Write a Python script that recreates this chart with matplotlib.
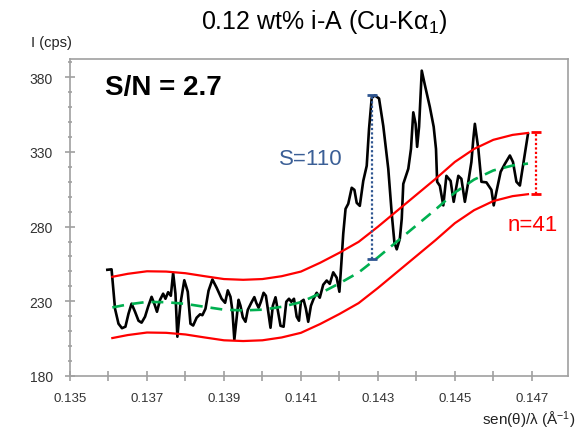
import matplotlib
matplotlib.use("Agg")
import matplotlib.pyplot as plt
from matplotlib.ticker import MultipleLocator, FixedLocator, FixedFormatter

plt.rcParams['font.family'] = ['Liberation Sans', 'DejaVu Sans']
plt.rcParams['mathtext.fontset'] = 'custom'
plt.rcParams['mathtext.rm'] = 'Liberation Sans'
plt.rcParams['mathtext.it'] = 'Liberation Sans:italic'
plt.rcParams['mathtext.bf'] = 'Liberation Sans:bold'

# ---- data ----
signal_x = [0.13597, 0.13608, 0.13617, 0.13626, 0.13635, 0.13644, 0.13652, 0.13660, 0.13669, 0.13678,
            0.13686, 0.13695, 0.13703, 0.13712, 0.13720, 0.13726, 0.13734, 0.13742, 0.13748, 0.13755,
            0.13762, 0.13768, 0.13774, 0.13779, 0.13787, 0.13797, 0.13806, 0.13813, 0.13820, 0.13829,
            0.13838, 0.13844, 0.13852, 0.13860, 0.13870, 0.13881, 0.13894, 0.13903, 0.13910, 0.13917,
            0.13922, 0.13927, 0.13934, 0.13938, 0.13943, 0.13949, 0.13956, 0.13962, 0.13971, 0.13979,
            0.13984, 0.13990, 0.13996, 0.14003, 0.14009, 0.14014, 0.14021, 0.14027, 0.14034, 0.14040,
            0.14047, 0.14055, 0.14062, 0.14069, 0.14075, 0.14082, 0.14089, 0.14095, 0.14100, 0.14107,
            0.14113, 0.14119, 0.14126, 0.14133, 0.14141, 0.14149, 0.14158, 0.14167, 0.14175, 0.14184,
            0.14193, 0.14200, 0.14205, 0.14210, 0.14216, 0.14223, 0.14232, 0.14239, 0.14245, 0.14253,
            0.14262, 0.14271, 0.14277, 0.14284, 0.14292, 0.14303, 0.14314, 0.14327, 0.14336, 0.14343,
            0.14349, 0.14357, 0.14362, 0.14366, 0.14379, 0.14386, 0.14392, 0.14398, 0.14402, 0.14407,
            0.14414, 0.14422, 0.14435, 0.14445, 0.14451, 0.14454, 0.14461, 0.14470, 0.14478, 0.14489,
            0.14497, 0.14509, 0.14517, 0.14526, 0.14535, 0.14543, 0.14548, 0.14552, 0.14561, 0.14569,
            0.14582, 0.14595, 0.14601, 0.14608, 0.14619, 0.14630, 0.14643, 0.14651, 0.14660, 0.14669,
            0.14677, 0.14690]
signal_y = [251.1, 251.4, 225.0, 215.0, 212.0, 213.0, 221.7, 228.4, 223.0, 217.0,
            215.7, 219.7, 226.4, 233.0, 227.7, 223.0, 231.0, 235.1, 231.7, 236.1,
            233.7, 249.1, 235.1, 206.3, 228.4, 244.1, 236.4, 215.0, 213.8, 219.0,
            221.3, 220.7, 225.0, 237.1, 244.6, 239.1, 231.7, 229.0, 237.3, 233.0,
            223.7, 204.3, 221.7, 231.0, 227.0, 219.3, 216.3, 224.3, 229.0, 232.8,
            229.0, 225.7, 229.7, 235.7, 233.7, 225.0, 212.3, 227.0, 232.7, 223.7,
            213.6, 213.0, 229.7, 231.7, 229.7, 231.7, 219.7, 217.0, 229.7, 231.0,
            225.0, 216.3, 227.0, 231.7, 235.7, 232.4, 241.1, 243.9, 241.7, 249.4,
            245.8, 236.4, 255.1, 275.2, 291.9, 295.3, 306.0, 304.6, 295.9, 293.9,
            310.6, 320.7, 345.4, 366.2, 367.8, 365.8, 347.4, 318.7, 288.6, 269.2,
            264.8, 271.8, 285.2, 308.6, 318.7, 332.0, 356.5, 348.8, 333.4, 346.8,
            384.4, 374.9, 360.1, 346.8, 332.0, 310.0, 307.3, 294.2, 314.0, 310.6,
            296.6, 314.0, 312.0, 296.6, 310.0, 323.3, 338.7, 348.8, 332.0, 310.0,
            309.6, 304.6, 294.2, 303.3, 316.7, 322.0, 327.6, 323.3, 310.0, 307.5,
            320.7, 342.1]

band_x = [0.1361, 0.1365, 0.1370, 0.1375, 0.1380, 0.1385, 0.1390, 0.1395, 0.1400, 0.1405,
          0.1410, 0.1415, 0.1420, 0.1425, 0.1430, 0.1435, 0.1440, 0.1445, 0.1450, 0.1455,
          0.1460, 0.1465, 0.1469]
upper_y = [246.4, 248.4, 250.1, 249.9, 248.8, 246.8, 244.9, 244.4, 244.9, 246.8,
           249.9, 255.8, 262.5, 269.8, 279.9, 290.6, 301.3, 312.0, 323.3, 332.0,
           338.1, 341.4, 342.7]
lower_y = [205.4, 207.4, 209.1, 208.9, 207.8, 205.8, 203.9, 203.4, 203.9, 205.8,
           208.9, 214.8, 221.5, 228.8, 238.9, 249.6, 260.3, 271.0, 282.3, 291.0,
           297.1, 300.4, 301.7]
base_y = [225.9, 227.9, 229.6, 229.4, 228.3, 226.3, 224.4, 223.9, 224.4, 226.3,
          229.4, 235.3, 242.0, 249.3, 259.4, 270.1, 280.8, 291.5, 302.8, 311.5,
          317.6, 320.9, 322.2]

signal_mark_x = 0.14286
signal_range = [258, 368]     # S = 110
noise_mark_x = 0.14712
noise_range = [302, 343]      # n = 41

x_ticks = [0.135, 0.137, 0.139, 0.141, 0.143, 0.145, 0.147]
x_tick_labels = ["0.135", "0.137", "0.139", "0.141", "0.143", "0.145", "0.147"]
y_ticks = [180, 230, 280, 330, 380]
y_tick_labels = ["180", "230", "280", "330", "380"]

# ---- figure ----
fig = plt.figure(figsize=(5.77, 4.31), dpi=100)
ax = fig.add_axes([70/577, 54/431, 498/577, 317/431])

ax.plot(signal_x, signal_y, color='black', lw=1.9, solid_joinstyle='round', zorder=3)
ax.plot(band_x, upper_y, color='#ff0000', lw=1.6, zorder=4)
ax.plot(band_x, lower_y, color='#ff0000', lw=1.6, zorder=4)
ax.plot(band_x, base_y, color='#00b050', lw=1.9, dashes=(4.5, 3), zorder=5)

blue = '#2e5591'
ax.plot([signal_mark_x, signal_mark_x], signal_range, color=blue, lw=1.6, ls=(0, (1, 1)), zorder=6)
ax.plot([signal_mark_x, signal_mark_x], signal_range, color=blue, lw=0, marker='_', ms=7, mew=2, zorder=6)
ax.plot([noise_mark_x, noise_mark_x], noise_range, color='#ff0000', lw=1.6, ls=(0, (1, 1)), zorder=6)
ax.plot([noise_mark_x, noise_mark_x], noise_range, color='#ff0000', lw=0, marker='_', ms=7, mew=2, zorder=6)

ax.text(0.14126, 325.5, "S=110", color='#3b5f96', fontsize=16, ha='center', va='center')
ax.text(0.14702, 281.5, "n=41", color='#ff0000', fontsize=16, ha='center', va='center')
ax.text(0.13591, 373.5, "S/N = 2.7", color='black', fontsize=20, fontweight='bold', ha='left', va='center')

ax.set_xlim(0.135, 0.14794)
ax.set_ylim(180, 392.2)

ax.xaxis.set_major_locator(FixedLocator(x_ticks))
ax.xaxis.set_major_formatter(FixedFormatter(x_tick_labels))
ax.xaxis.set_minor_locator(MultipleLocator(0.001))
ax.yaxis.set_major_locator(FixedLocator(y_ticks))
ax.yaxis.set_major_formatter(FixedFormatter(y_tick_labels))
ax.yaxis.set_minor_locator(MultipleLocator(10))

spine_c = '#a0a0a0'
for s in ax.spines.values():
    s.set_color(spine_c)
    s.set_linewidth(1.2)
ax.tick_params(axis='both', which='major', direction='inout', length=7, width=1.2,
               color=spine_c, labelcolor='#333333')
ax.tick_params(axis='x', which='major', labelsize=9.5, pad=8)
ax.tick_params(axis='y', which='major', labelsize=10, pad=9)
ax.tick_params(axis='x', which='minor', direction='inout', length=7, width=1.2, color=spine_c)
ax.tick_params(axis='y', which='minor', direction='inout', length=3.5, width=1.2, color=spine_c)

fig.text(324/577, 1 - 22/431, "0.12 wt% i-A (Cu-K\u03b1$_1$)", fontsize=18, ha='center', va='center')
fig.text(51/577, 1 - 43/431, "I (cps)", fontsize=10.5, ha='center', va='center', color='#222222')
fig.text(575/577, 1 - 420/431, "sen(\u03b8)/\u03bb (\u00c5$^{-1}$)", fontsize=11, ha='right', va='center', color='#222222')

fig.savefig("out.png", dpi=100)
